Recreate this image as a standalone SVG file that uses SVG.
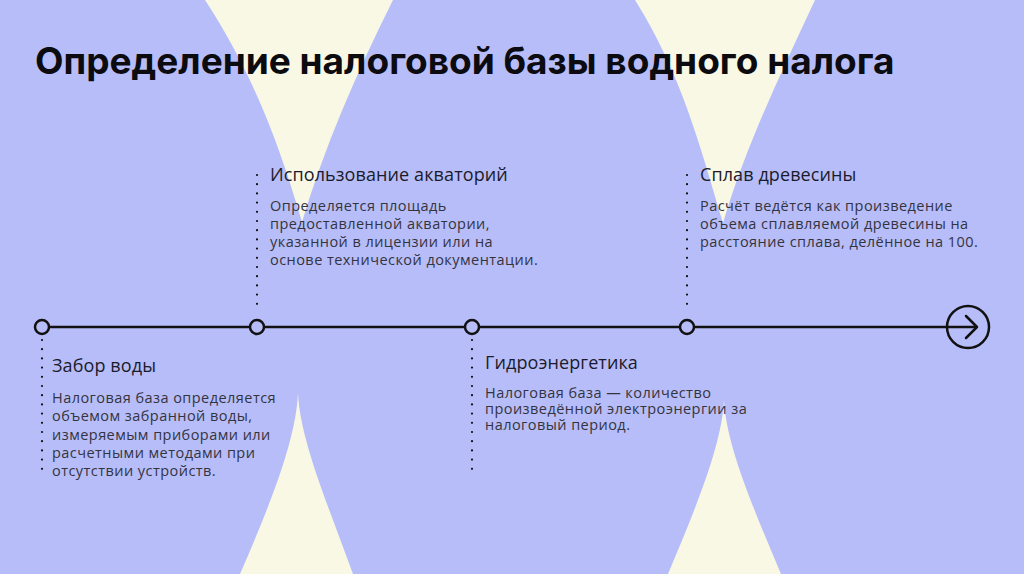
<svg xmlns="http://www.w3.org/2000/svg" width="1024" height="574" viewBox="0 0 1024 574">
<style>
.title{font-family:"Inter","Noto Sans",sans-serif;font-weight:700;font-size:37px;fill:#0b0b10}
.head{font-family:"Open Sans","Noto Sans",sans-serif;font-size:18px;fill:#1b1b2b;letter-spacing:0.1px}
.body{font-family:"Open Sans","Noto Sans",sans-serif;font-size:14.5px;fill:#34343f;letter-spacing:0.45px}
.node{fill:#b7bdf9;stroke:#111;stroke-width:2.5}
.dots{stroke:#111;stroke-width:2.2;stroke-dasharray:0 9.2;stroke-linecap:round;fill:none}
.cream{fill:#f9f8e5}
</style>
<rect width="1024" height="574" fill="#b7bdf9"/>
<g id="background">
<path class="cream" d="M205,0 C254,75 280,147 302,222 C324.5,147 355.5,75 393,0 Z"/>
<path class="cream" d="M240,574 C270,505 296,440 298,393 C300,440 328,505 353,574 Z"/>
<path class="cream" d="M635,0 C682,75 700.5,148 723,223 C745,148 780,75 815,0 Z"/>
<path class="cream" d="M668,574 C695,510 722,445 724,400 C726,445 754,510 781,574 Z"/>
</g>
<text class="title" x="35" y="74">Определение налоговой базы водного налога</text>
<g id="connectors">
<line x1="42" y1="327" x2="977" y2="327" stroke="#111" stroke-width="2.5"/>
<polyline points="966,316 977,327 966,338" fill="none" stroke="#111" stroke-width="2.5" stroke-linejoin="round" stroke-linecap="round"/>
<line class="dots" x1="257" y1="175" x2="257" y2="312"/>
<line class="dots" x1="687" y1="175" x2="687" y2="312"/>
<line class="dots" x1="42" y1="340" x2="42" y2="473"/>
<line class="dots" x1="472" y1="340" x2="472" y2="473"/>
</g>
<g id="end">
<circle cx="968" cy="327" r="21" fill="none" stroke="#111" stroke-width="2.5"/>
</g>
<g id="node-zabor">
<circle class="node" cx="42" cy="327" r="7"/>
<text class="head" x="52" y="372">Забор воды</text>
<text class="body" x="52" y="403">Налоговая база определяется</text>
<text class="body" x="52" y="421.3">объемом забранной воды,</text>
<text class="body" x="52" y="439.6">измеряемым приборами или</text>
<text class="body" x="52" y="457.9">расчетными методами при</text>
<text class="body" x="52" y="476.2">отсутствии устройств.</text>
</g>
<g id="node-akvatorii">
<circle class="node" cx="257" cy="327" r="7"/>
<text class="head" x="270" y="181">Использование акваторий</text>
<text class="body" x="270" y="211">Определяется площадь</text>
<text class="body" x="270" y="229">предоставленной акватории,</text>
<text class="body" x="270" y="247">указанной в лицензии или на</text>
<text class="body" x="270" y="265">основе технической документации.</text>
</g>
<g id="node-gidro">
<circle class="node" cx="472" cy="327" r="7"/>
<text class="head" x="485" y="369">Гидроэнергетика</text>
<text class="body" x="485" y="398">Налоговая база — количество</text>
<text class="body" x="485" y="414">произведённой электроэнергии за</text>
<text class="body" x="485" y="430">налоговый период.</text>
</g>
<g id="node-splav">
<circle class="node" cx="687" cy="327" r="7"/>
<text class="head" x="700" y="181">Сплав древесины</text>
<text class="body" x="700" y="211">Расчёт ведётся как произведение</text>
<text class="body" x="700" y="229">объема сплавляемой древесины на</text>
<text class="body" x="700" y="247">расстояние сплава, делённое на 100.</text>
</g>
</svg>
